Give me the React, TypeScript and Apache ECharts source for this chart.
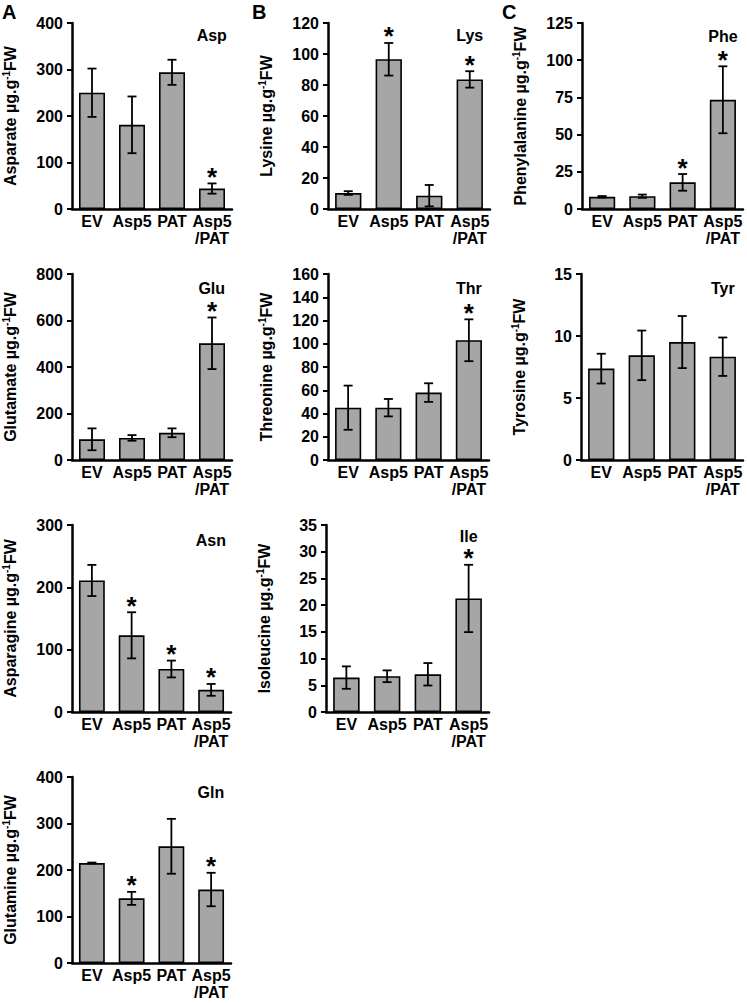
import React, { useEffect, useRef } from "react";
import * as echarts from "echarts";

// ---- data ----
const categories = ["EV", "Asp5", "PAT", "Asp5\n/PAT"];

const aspMean = [250, 181, 294, 44];
const aspErr = [52, 61, 27, 11];
const aspSig = [0, 0, 0, 1];

const lysMean = [10.3, 96.6, 8.6, 83.6];
const lysErr = [1.2, 10.5, 6.9, 5.3];
const lysSig = [0, 1, 0, 1];

const pheMean = [8.2, 8.6, 17.9, 73.4];
const pheErr = [0.5, 1.1, 5.6, 22.5];
const pheSig = [0, 0, 1, 1];

const gluMean = [89, 95, 117, 502];
const gluErr = [47, 12, 19, 111];
const gluSig = [0, 0, 0, 1];

const thrMean = [45, 45, 58, 103];
const thrErr = [19, 7.5, 8, 18];
const thrSig = [0, 0, 0, 1];

const tyrMean = [7.37, 8.44, 9.51, 8.33];
const tyrErr = [1.2, 2.0, 2.1, 1.55];
const tyrSig = [0, 0, 0, 0];

const asnMean = [211, 123, 69, 35.5];
const asnErr = [25, 37, 13.5, 9.5];
const asnSig = [0, 1, 1, 1];

const ileMean = [6.44, 6.69, 7.06, 21.25];
const ileErr = [2.1, 1.1, 2.1, 6.3];
const ileSig = [0, 0, 0, 1];

const glnMean = [215, 139, 251, 158];
const glnErr = [1, 14, 59, 36];
const glnSig = [0, 1, 0, 1];

const yTicks = {
  asp: [0, 400, 100],
  lys: [0, 120, 20],
  phe: [0, 125, 25],
  glu: [0, 800, 200],
  thr: [0, 160, 20],
  tyr: [0, 15, 5],
  asn: [0, 300, 100],
  ile: [0, 35, 5],
  gln: [0, 400, 100],
};

const FONT = "Liberation Sans";

type Panel = {
  title: string;
  yName: string;
  mean: number[];
  err: number[];
  sig: number[];
  ticks: number[];
  left: number;
  top: number;
  width: number;
  height: number;
  titleDy: number;
};

const panels: Panel[] = [
  { title: "Asp", yName: "Asparate", mean: aspMean, err: aspErr, sig: aspSig, ticks: yTicks.asp, left: 70, top: 23, width: 162, height: 186, titleDy: 12 },
  { title: "Lys", yName: "Lysine", mean: lysMean, err: lysErr, sig: lysSig, ticks: yTicks.lys, left: 328, top: 23, width: 162, height: 186, titleDy: 12 },
  { title: "Phe", yName: "Phenylalanine", mean: pheMean, err: pheErr, sig: pheSig, ticks: yTicks.phe, left: 582, top: 23, width: 161, height: 186, titleDy: 13 },
  { title: "Glu", yName: "Glutamate", mean: gluMean, err: gluErr, sig: gluSig, ticks: yTicks.glu, left: 70, top: 274, width: 162, height: 186, titleDy: 14 },
  { title: "Thr", yName: "Threonine", mean: thrMean, err: thrErr, sig: thrSig, ticks: yTicks.thr, left: 328, top: 274, width: 161, height: 186, titleDy: 14 },
  { title: "Tyr", yName: "Tyrosine", mean: tyrMean, err: tyrErr, sig: tyrSig, ticks: yTicks.tyr, left: 581, top: 274, width: 162, height: 186, titleDy: 14 },
  { title: "Asn", yName: "Asparagine", mean: asnMean, err: asnErr, sig: asnSig, ticks: yTicks.asn, left: 70, top: 525, width: 161, height: 187, titleDy: 15 },
  { title: "Ile", yName: "Isoleucine", mean: ileMean, err: ileErr, sig: ileSig, ticks: yTicks.ile, left: 326, top: 525, width: 163, height: 187, titleDy: 11 },
  { title: "Gln", yName: "Glutamine", mean: glnMean, err: glnErr, sig: glnSig, ticks: yTicks.gln, left: 70, top: 777, width: 161, height: 186, titleDy: 15 },
];

const panelLetters = [
  { text: "A", x: 2, y: 2 },
  { text: "B", x: 252, y: 2 },
  { text: "C", x: 502, y: 2 },
];

function buildOption() {
  const grid: any[] = [];
  const xAxis: any[] = [];
  const yAxis: any[] = [];
  const series: any[] = [];
  const graphic: any[] = [];

  panels.forEach((p, i) => {
    grid.push({ left: p.left, top: p.top, width: p.width, height: p.height, containLabel: false });
    xAxis.push({
      type: "category",
      gridIndex: i,
      data: categories,
      axisLine: { show: true, lineStyle: { color: "#000", width: 2.5 } },
      axisTick: { show: false },
      axisLabel: {
        interval: 0,
        color: "#000",
        fontFamily: FONT,
        fontWeight: "bold",
        fontSize: 16,
        lineHeight: 17,
        margin: 4,
      },
    });
    yAxis.push({
      type: "value",
      gridIndex: i,
      min: p.ticks[0],
      max: p.ticks[1],
      interval: p.ticks[2],
      name: `{a|${p.yName} µg.g}{s|-1}{a|FW}`,
      nameLocation: "middle",
      nameGap: 53,
      nameRotate: 90,
      nameTextStyle: {
        color: "#000",
        fontFamily: FONT,
        fontWeight: "bold",
        fontSize: 16,
        rich: {
          a: { fontFamily: FONT, fontWeight: "bold", fontSize: 16, color: "#000", lineHeight: 18 },
          s: { fontFamily: FONT, fontWeight: "bold", fontSize: 10, color: "#000", verticalAlign: "top", lineHeight: 18 },
        },
      },
      axisLine: { show: true, lineStyle: { color: "#000", width: 2.5 } },
      axisTick: { show: true, length: 5, lineStyle: { color: "#000", width: 2 } },
      splitLine: { show: false },
      axisLabel: {
        color: "#000",
        fontFamily: FONT,
        fontWeight: "bold",
        fontSize: 16,
        margin: 9,
      },
    });
    series.push({
      type: "bar",
      xAxisIndex: i,
      yAxisIndex: i,
      data: p.mean,
      barWidth: "65%",
      itemStyle: { color: "#a6a6a6", borderColor: "#000", borderWidth: 1.6 },
      z: 2,
    });
    series.push({
      type: "custom",
      xAxisIndex: i,
      yAxisIndex: i,
      coordinateSystem: "cartesian2d",
      data: p.mean.map((m, k) => [k, m - p.err[k], m + p.err[k], p.sig[k]]),
      encode: { x: 0, y: [1, 2] },
      z: 3,
      clip: false,
      renderItem: (params: any, api: any) => {
        const idx = api.value(0);
        const lo = api.value(1);
        const hi = api.value(2);
        const sig = api.value(3);
        const pHi = api.coord([idx, hi]);
        const pLo = api.coord([idx, lo]);
        const cap = 4.5;
        const ls = { stroke: "#000", lineWidth: 1.8 };
        const children: any[] = [
          { type: "line", shape: { x1: pHi[0], y1: pHi[1], x2: pLo[0], y2: pLo[1] }, style: ls },
          { type: "line", shape: { x1: pHi[0] - cap, y1: pHi[1], x2: pHi[0] + cap, y2: pHi[1] }, style: ls },
          { type: "line", shape: { x1: pLo[0] - cap, y1: pLo[1], x2: pLo[0] + cap, y2: pLo[1] }, style: ls },
        ];
        if (sig) {
          children.push({
            type: "text",
            style: {
              text: "*",
              x: pHi[0],
              y: pHi[1] - 6.5,
              align: "center",
              verticalAlign: "middle",
              fontFamily: FONT,
              fontWeight: "bold",
              fontSize: 26,
              lineHeight: 12,
              fill: "#000",
            },
          });
        }
        return { type: "group", children };
      },
    });
    graphic.push({
      type: "text",
      x: p.left + (p.width * 7) / 8,
      y: p.top + p.titleDy,
      style: {
        text: p.title,
        align: "center",
        verticalAlign: "middle",
        fontFamily: FONT,
        fontWeight: "bold",
        fontSize: 16,
        fill: "#000",
      },
    });
  });

  panelLetters.forEach((l) => {
    graphic.push({
      type: "text",
      x: l.x,
      y: l.y,
      style: {
        text: l.text,
        fontFamily: FONT,
        fontWeight: "bold",
        fontSize: 20,
        fill: "#000",
        align: "left",
        verticalAlign: "top",
      },
    });
  });

  return {
    animation: false,
    backgroundColor: "#fff",
    grid,
    xAxis,
    yAxis,
    series,
    graphic,
  };
}

export default function App() {
  const ref = useRef<HTMLDivElement>(null);
  useEffect(() => {
    document.body.style.margin = "0";
    if (!ref.current) return;
    const chart = echarts.init(ref.current, undefined, { renderer: "svg" });
    chart.setOption(buildOption());
    return () => chart.dispose();
  }, []);
  return <div ref={ref} style={{ width: 747, height: 1003 }} />;
}
